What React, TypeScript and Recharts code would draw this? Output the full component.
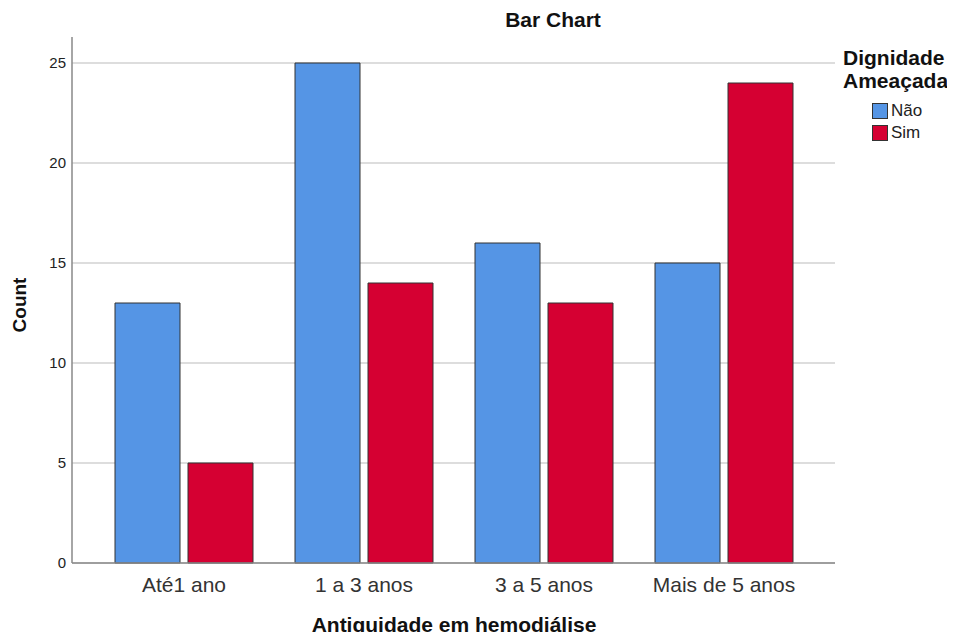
import { Bar, BarChart, CartesianGrid, XAxis, YAxis } from "recharts";

const categories = ["Até1 ano", "1 a 3 anos", "3 a 5 anos", "Mais de 5 anos"];
const naoValues = [13, 25, 16, 15];
const simValues = [5, 14, 13, 24];
const yTicks = [0, 5, 10, 15, 20, 25];
const Y_MAX = 26.3;

const BLUE = "#5595e5";
const RED = "#d50032";

const data = categories.map((cat, i) => ({ cat, nao: naoValues[i], sim: simValues[i] }));

const font = "'Liberation Sans', Arial, sans-serif";

// draw horizontal grid lines, but skip the one recharts puts on the top edge
const gridLine = (p: any) => {
  const top = typeof p.y === "number" ? p.y : 37;
  if (p.y1 <= top + 0.5) return <g key={p.key ?? p.index} />;
  return <line key={p.key ?? p.index} x1={p.x1} y1={p.y1} x2={p.x2} y2={p.y2} stroke="#d2d2d2" strokeWidth={1.5} />;
};

export default function App() {
  return (
    <div style={{ position: "relative", width: 955, height: 640, margin: -8, background: "#fff", fontFamily: font }}>
      <BarChart
        width={955}
        height={640}
        data={data}
        margin={{ top: 37, right: 120, bottom: 47, left: 12 }}
        barSize={65}
        barGap={8}
      >
        <CartesianGrid vertical={false} horizontal={gridLine} />
        <XAxis
          dataKey="cat"
          height={30}
          padding={{ left: 22, right: 21 }}
          tickLine={false}
          axisLine={{ stroke: "#888", strokeWidth: 1.5 }}
          tick={{ fill: "#333", fontSize: 21, fontFamily: font }}
          tickMargin={8}
        />
        <YAxis
          width={60}
          domain={[0, Y_MAX]}
          ticks={yTicks}
          tickLine={false}
          axisLine={{ stroke: "#888", strokeWidth: 1.5 }}
          tick={{ fill: "#222", fontSize: 15, fontFamily: font }}
          tickMargin={0}
        />
        <Bar dataKey="nao" fill={BLUE} stroke="#333" strokeWidth={1} isAnimationActive={false} />
        <Bar dataKey="sim" fill={RED} stroke="#333" strokeWidth={1} isAnimationActive={false} />
      </BarChart>
      <div style={{ position: "absolute", left: 553, top: 8, transform: "translateX(-50%)", fontSize: 21, fontWeight: "bold", color: "#111", whiteSpace: "nowrap" }}>
        Bar Chart
      </div>
      <div style={{ position: "absolute", left: 454, top: 613, transform: "translateX(-50%)", fontSize: 21, fontWeight: "bold", color: "#111", whiteSpace: "nowrap" }}>
        Antiguidade em hemodiálise
      </div>
      <div style={{ position: "absolute", left: 20, top: 305, transform: "translate(-50%, -50%) rotate(-90deg)", fontSize: 19, fontWeight: "bold", color: "#111" }}>
        Count
      </div>
      <div style={{ position: "absolute", left: 843, top: 46, fontSize: 21, fontWeight: "bold", color: "#111", lineHeight: "23px", whiteSpace: "nowrap" }}>
        Dignidade
        <br />
        Ameaçada
      </div>
      {[
        { name: "Não", color: BLUE, top: 103 },
        { name: "Sim", color: RED, top: 125 },
      ].map((it) => (
        <div key={it.name} style={{ position: "absolute", left: 872, top: it.top, display: "flex", alignItems: "center" }}>
          <div style={{ width: 14, height: 14, background: it.color, border: "1px solid #333" }} />
          <span style={{ marginLeft: 3, fontSize: 17, color: "#222", lineHeight: "16px" }}>{it.name}</span>
        </div>
      ))}
    </div>
  );
}
